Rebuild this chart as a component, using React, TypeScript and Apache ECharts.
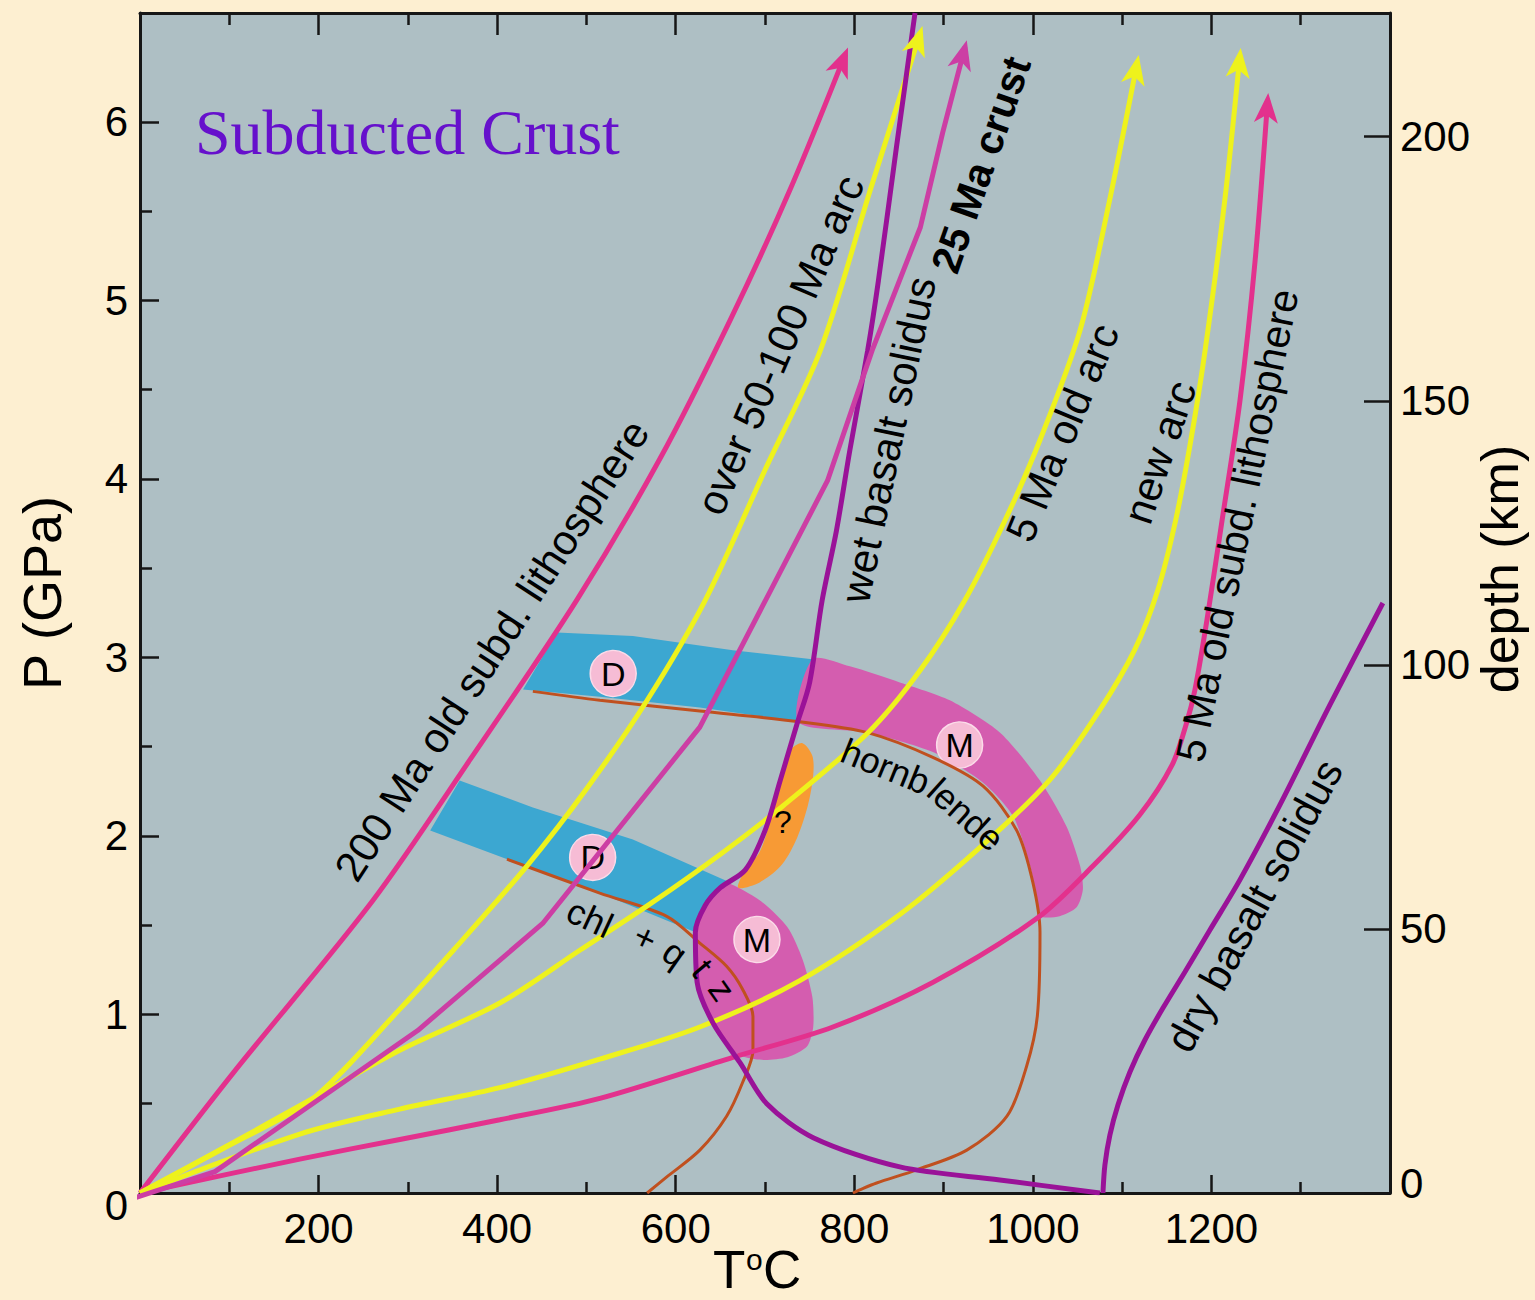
import React, { useEffect, useRef } from "react";
import * as echarts from "echarts";

const SANS = "'Liberation Sans', Arial, Helvetica, sans-serif";
const SERIF = "'Liberation Serif', 'Times New Roman', Times, serif";

// Axis ranges: temperature (°C), pressure (GPa) and the matching depth (km)
const T_MAX = 1400;
const P_MAX = 6.61;
const KM_PER_GPA = 33.8;
const DEPTH_MAX = P_MAX * KM_PER_GPA;
const P_MAJOR_TICKS = [0, 1, 2, 3, 4, 5, 6];
const P_MINOR_TICKS = [0.5, 1.5, 2.5, 3.5, 4.5, 5.5];

// Colours
const PAGE_BG = "#fdefd1";
const PLOT_BG = "#aebfc4";
const LITH = "#e3318d";
const CRUST = "#cc3ea4";
const YELLOW = "#eef21c";
const SOLIDUS = "#9a1298";
const BROWN = "#c0501f";
const BLUE = "#3ca7d1";
const PINK = "#d45daf";
const ORANGE = "#f79a35";
const INK = "#000000";

// Slab-surface P–T paths, [T °C, P GPa]
const lithosphere200Ma = [[0, 0], [104, 0.67], [261, 1.64], [370, 2.43], [489, 3.32], [582, 4.11], [661, 4.89], [728, 5.62], [790, 6.38]];
const over50to100MaArc = [[0, 0], [101, 0.27], [194, 0.53], [291, 1.03], [351, 1.36], [433, 1.83], [501, 2.27], [568, 2.76], [633, 3.32], [700, 4.05], [762, 4.72], [818, 5.62], [874, 6.5]];
const crust25Ma = [[-8, -0.03], [84, 0.12], [311, 0.91], [451, 1.51], [627, 2.61], [770, 3.99], [820, 4.72], [874, 5.41], [899, 5.94], [924, 6.42]];
const arc5Ma = [[0, 0], [100, 0.27], [190, 0.52], [291, 0.8], [403, 1.064], [493, 1.361], [573, 1.625], [652, 1.905], [720, 2.168], [815, 2.577], [874, 2.93], [924, 3.322], [969, 3.77], [1008, 4.218], [1053, 4.835], [1086, 5.563], [1117, 6.336]];
const newArc = [[0, 0], [179, 0.33], [291, 0.47], [403, 0.59], [515, 0.75], [627, 0.93], [739, 1.19], [851, 1.56], [944, 1.95], [1019, 2.314], [1075, 2.706], [1114, 3.042], [1140, 3.378], [1160, 3.77], [1177, 4.218], [1193, 4.723], [1215, 5.563], [1232, 6.375]];
const lithosphere5Ma = [[0, 0], [179, 0.19], [291, 0.3], [403, 0.41], [515, 0.53], [664, 0.76], [776, 0.93], [888, 1.18], [1005, 1.54], [1067, 1.83], [1120, 2.12], [1156, 2.398], [1171.5, 2.622], [1181.5, 2.818], [1195, 3.21], [1212, 3.77], [1232, 4.44], [1249, 5.227], [1263, 6.123]];

// Solidi
const wetBasaltSolidus = [[868, 6.61], [847, 5.85], [827, 5.11], [815, 4.72], [795, 4.16], [780, 3.71], [764, 3.32], [750, 2.86], [736, 2.63], [717, 2.31], [700, 2.03], [678, 1.81], [650, 1.71], [633, 1.61], [622, 1.46], [624, 1.18], [642, 0.95], [672, 0.73], [702, 0.5], [754, 0.31], [851, 0.146], [963, 0.073], [1075, 0]];
const dryBasaltSolidus = [[1078.5, 0], [1080.7, 0.157], [1086.3, 0.325], [1095.3, 0.493], [1108.7, 0.678], [1125.5, 0.857], [1145.7, 1.036], [1170.3, 1.238], [1198.3, 1.473], [1231.9, 1.754], [1276.7, 2.174], [1332.7, 2.734], [1392, 3.305]];

// Dehydration reactions
const hornblendeOut = [[440, 2.81], [515, 2.76], [627, 2.7], [739, 2.64], [814, 2.58], [888, 2.44], [944, 2.28], [982, 2.03], [1000, 1.74], [1008, 1.46], [1005, 0.99], [993, 0.71], [971, 0.43], [926, 0.24], [870, 0.13], [825, 0.056], [806, 0.017], [798.5, 0]];
const chloriteQuartz = [[411, 1.87], [515, 1.68], [590, 1.55], [627, 1.4], [657, 1.27], [675, 1.14], [686.5, 0.99], [686.5, 0.8], [675, 0.62], [657, 0.43], [627, 0.24], [590, 0.09], [568, 0]];

// Dehydration (D) and melting (M) fields, outlined in [T, P]
const dehydrationUpper = [[467, 3.14], [552, 3.12], [664, 3.04], [753, 2.99], [737, 2.64], [627, 2.72], [515, 2.78], [429, 2.82]];
const meltingUpper = [[753, 2.99], [795, 2.95], [851, 2.86], [907, 2.76], [963, 2.58], [1008, 2.31], [1038, 2.05], [1053, 1.83], [1056, 1.7], [1049, 1.6], [1030, 1.55], [1008, 1.55], [1005, 1.64], [997, 1.83], [978, 2.11], [944, 2.3], [888, 2.47], [814, 2.58], [737, 2.64]];
const dehydrationLower = [[358, 2.31], [440, 2.16], [552, 1.98], [661, 1.74], [650, 1.71], [633, 1.61], [622, 1.46], [515, 1.68], [422, 1.85], [325, 2.03]];
const meltingLower = [[657, 1.74], [694, 1.64], [725, 1.49], [742, 1.31], [753, 1.1], [754, 0.93], [747, 0.82], [725, 0.76], [700, 0.745], [678, 0.76], [661, 0.81], [642, 0.95], [624, 1.18], [622, 1.46], [633, 1.61], [650, 1.71]];
const uncertainField = [[730, 2.49], [742, 2.52], [753, 2.45], [754, 2.34], [748, 2.17], [736, 1.99], [719, 1.84], [694, 1.74], [670, 1.71], [678, 1.81], [694, 1.91], [706, 2.09], [714, 2.26], [722, 2.4]];

// Field markers
const markerLabels = ["D", "D", "M", "M"];
const markerPoints = [[530, 2.91], [507, 1.88], [918, 2.51], [691, 1.42]];

// Curve labels: text, anchor [T, P], angle (deg), font size, bold
const labelTexts = [
  "200 Ma old subd. lithosphere", "over 50-100 Ma arc", "wet basalt solidus", "25 Ma crust",
  "5 Ma old arc", "new arc", "5 Ma old subd. lithosphere", "dry basalt solidus",
  "hornb", "lende", "chl", "+", "q", "t", "z", "?",
];
const labelAnchors = [
  [394, 3.04], [717, 4.75], [838, 4.22], [942, 5.76],
  [1033, 4.26], [1142, 4.15], [1229, 3.74], [1248, 1.61],
  [835, 2.39], [925, 2.12], [504, 1.54], [566, 1.43], [599, 1.345], [630, 1.26], [652, 1.14], [720, 2.08],
];
const labelAngles = [57, 66.8, 78.2, 70.7, 67.5, 71.4, 78.5, 61.6, -22, -42, -25, -25, -35, -50, -55, 0];
const labelSizes = [42, 42, 42, 41, 42, 42, 41, 42, 36, 36, 36, 36, 36, 36, 36, 32];
const labelBold = [false, false, false, true, false, false, false, false, false, false, false, false, false, false, false, false];

const arrowCurves = [
  { data: lithosphere200Ma, color: LITH },
  { data: over50to100MaArc, color: YELLOW },
  { data: crust25Ma, color: CRUST },
  { data: arc5Ma, color: YELLOW },
  { data: newArc, color: YELLOW },
  { data: lithosphere5Ma, color: LITH },
];

const fields = [
  { points: dehydrationUpper, color: BLUE, smooth: 0 },
  { points: meltingUpper, color: PINK, smooth: 0.25 },
  { points: dehydrationLower, color: BLUE, smooth: 0 },
  { points: meltingLower, color: PINK, smooth: 0.25 },
  { points: uncertainField, color: ORANGE, smooth: 0.3 },
];

const axisLineStyle = { color: "#161616", width: 3 };
const tickStyle = { color: "#161616", width: 2.5 };
const labelFont = { fontSize: 42, color: INK, fontFamily: SANS };

function curve(name: string, data: number[][], color: string, width: number, extra: any = {}) {
  return {
    type: "line",
    name,
    data,
    xAxisIndex: 0,
    yAxisIndex: 0,
    showSymbol: false,
    symbol: "none",
    smooth: 0.3,
    silent: true,
    z: 3,
    lineStyle: { color, width },
    ...extra,
  };
}

function buildOption(): any {
  return {
    animation: false,
    backgroundColor: PAGE_BG,
    grid: {
      left: 140,
      top: 13,
      right: 145,
      bottom: 107,
      show: true,
      backgroundColor: PLOT_BG,
      borderWidth: 0,
      containLabel: false,
    },
    xAxis: [
      {
        type: "value",
        position: "bottom",
        min: 0,
        max: T_MAX,
        interval: 200,
        axisLine: { show: true, onZero: false, lineStyle: axisLineStyle },
        axisTick: { show: true, inside: true, length: 18, lineStyle: tickStyle },
        minorTick: { show: true, splitNumber: 2, length: 11, lineStyle: tickStyle },
        axisLabel: {
          show: true,
          showMinLabel: false,
          showMaxLabel: false,
          margin: 14,
          ...labelFont,
          formatter: (v: number) => String(v),
        },
        splitLine: { show: false },
        minorSplitLine: { show: false },
      },
      {
        type: "value",
        position: "top",
        min: 0,
        max: T_MAX,
        interval: 200,
        axisLine: { show: true, onZero: false, lineStyle: axisLineStyle },
        axisTick: { show: true, inside: true, length: 22, lineStyle: tickStyle },
        minorTick: { show: true, splitNumber: 2, length: 12, lineStyle: tickStyle },
        axisLabel: { show: false },
        splitLine: { show: false },
      },
    ],
    yAxis: [
      {
        type: "value",
        position: "left",
        min: 0,
        max: P_MAX,
        interval: 1,
        axisLine: { show: true, onZero: false, lineStyle: axisLineStyle },
        axisTick: { show: true, inside: true, length: 19, lineStyle: tickStyle, customValues: P_MAJOR_TICKS },
        axisLabel: {
          show: true,
          showMaxLabel: false,
          margin: 12,
          ...labelFont,
          formatter: (v: number) => (v === 0 ? "{low|0}" : String(v)),
          rich: { low: { ...labelFont, padding: [24, 0, 0, 0] } },
        },
        splitLine: { show: false },
      },
      {
        type: "value",
        position: "right",
        min: 0,
        max: DEPTH_MAX,
        interval: 50,
        axisLine: { show: true, onZero: false, lineStyle: axisLineStyle },
        axisTick: { show: true, inside: true, length: 26, lineStyle: tickStyle },
        axisLabel: {
          show: true,
          showMaxLabel: false,
          margin: 10,
          ...labelFont,
          formatter: (v: number) => (v === 0 ? "{high|0}" : String(v)),
          rich: { high: { ...labelFont, padding: [0, 0, 20, 0] } },
        },
        splitLine: { show: false },
      },
      {
        type: "value",
        position: "left",
        offset: 0,
        min: 0,
        max: P_MAX,
        axisLine: { show: false },
        axisTick: { show: true, inside: true, length: 12, lineStyle: tickStyle, customValues: P_MINOR_TICKS },
        axisLabel: { show: false },
        splitLine: { show: false },
      },
    ],
    graphic: [
      {
        type: "text",
        left: 195,
        top: 100,
        z: 100,
        style: { text: "Subducted Crust", fill: "#6610cc", font: `64px ${SERIF}` },
      },
      {
        type: "text",
        x: 42,
        y: 593,
        rotation: Math.PI / 2,
        z: 100,
        style: { text: "P (GPa)", fill: INK, font: `54px ${SANS}`, align: "center", verticalAlign: "middle" },
      },
      {
        type: "text",
        x: 1500,
        y: 569,
        rotation: Math.PI / 2,
        z: 100,
        style: { text: "depth (km)", fill: INK, font: `52px ${SANS}`, align: "center", verticalAlign: "middle" },
      },
      {
        type: "text",
        x: 713,
        y: 1269,
        z: 100,
        style: { text: "T", fill: INK, font: `53px ${SANS}`, align: "left", verticalAlign: "middle" },
      },
      {
        type: "text",
        x: 746,
        y: 1259,
        z: 100,
        style: { text: "o", fill: INK, font: `30px ${SANS}`, align: "left", verticalAlign: "middle" },
      },
      {
        type: "text",
        x: 763,
        y: 1269,
        z: 100,
        style: { text: "C", fill: INK, font: `53px ${SANS}`, align: "left", verticalAlign: "middle" },
      },
    ],
    series: [
      {
        type: "custom",
        name: "fields",
        coordinateSystem: "cartesian2d",
        xAxisIndex: 0,
        yAxisIndex: 0,
        silent: true,
        z: 1,
        data: fields.map((f) => f.points[0]),
        renderItem: (params: any, api: any) => {
          const f = fields[params.dataIndex];
          return {
            type: "polygon",
            shape: { points: f.points.map((p) => api.coord(p)), smooth: f.smooth },
            style: { fill: f.color },
          };
        },
      },
      {
        type: "scatter",
        name: "markers",
        xAxisIndex: 0,
        yAxisIndex: 0,
        silent: true,
        z: 2,
        symbol: "circle",
        symbolSize: 46,
        itemStyle: { color: "#f6bcd5", borderColor: "#fbdbe9", borderWidth: 1.5, opacity: 1 },
        data: markerPoints.map((p, i) => ({ value: p, label: { formatter: markerLabels[i] } })),
        label: { show: true, position: "inside", fontSize: 34, color: INK, fontFamily: SANS },
      },
      curve("chl + qtz", chloriteQuartz, BROWN, 3),
      curve("hornblende", hornblendeOut, BROWN, 3),
      curve("200 Ma old subd. lithosphere", lithosphere200Ma, LITH, 5),
      curve("5 Ma old subd. lithosphere", lithosphere5Ma, LITH, 5),
      curve("over 50-100 Ma arc", over50to100MaArc, YELLOW, 5),
      curve("5 Ma old arc", arc5Ma, YELLOW, 5),
      curve("new arc", newArc, YELLOW, 5),
      curve("wet basalt solidus", wetBasaltSolidus, SOLIDUS, 5),
      curve("dry basalt solidus", dryBasaltSolidus, SOLIDUS, 5),
      curve("25 Ma crust", crust25Ma, CRUST, 5, { smooth: false, clip: false }),
      {
        type: "custom",
        name: "arrowheads",
        coordinateSystem: "cartesian2d",
        xAxisIndex: 0,
        yAxisIndex: 0,
        silent: true,
        clip: false,
        z: 4,
        data: arrowCurves.map((c) => c.data[c.data.length - 1]),
        renderItem: (params: any, api: any) => {
          const c = arrowCurves[params.dataIndex];
          const n = c.data.length;
          const end = api.coord(c.data[n - 1]);
          const prev = api.coord(c.data[n - 2]);
          const ang = Math.atan2(end[1] - prev[1], end[0] - prev[0]);
          const ux = Math.cos(ang);
          const uy = Math.sin(ang);
          const px = -uy;
          const py = ux;
          const len = 30;
          const half = 12;
          const notch = 8;
          const tip = [end[0] + ux * 7, end[1] + uy * 7];
          const back = [tip[0] - ux * len, tip[1] - uy * len];
          const mid = [tip[0] - ux * (len - notch), tip[1] - uy * (len - notch)];
          return {
            type: "polygon",
            shape: {
              points: [tip, [back[0] + px * half, back[1] + py * half], mid, [back[0] - px * half, back[1] - py * half]],
            },
            style: { fill: c.color },
          };
        },
      },
      {
        type: "scatter",
        name: "labels",
        xAxisIndex: 0,
        yAxisIndex: 0,
        silent: true,
        z: 10,
        symbolSize: 1,
        itemStyle: { color: "rgba(0,0,0,0)", opacity: 1 },
        data: labelAnchors.map((p, i) => ({
          value: p,
          label: {
            formatter: labelTexts[i],
            rotate: labelAngles[i],
            fontSize: labelSizes[i],
            fontWeight: labelBold[i] ? "bold" : "normal",
          },
        })),
        label: { show: true, position: "inside", color: INK, fontFamily: SANS, opacity: 1 },
      },
    ],
  };
}

export default function App() {
  const ref = useRef<HTMLDivElement>(null);
  useEffect(() => {
    document.body.style.margin = "0";
    const chart = echarts.init(ref.current as HTMLDivElement, null, { renderer: "svg" });
    chart.setOption(buildOption());
    return () => chart.dispose();
  }, []);
  return <div ref={ref} style={{ width: 1535, height: 1300 }} />;
}
